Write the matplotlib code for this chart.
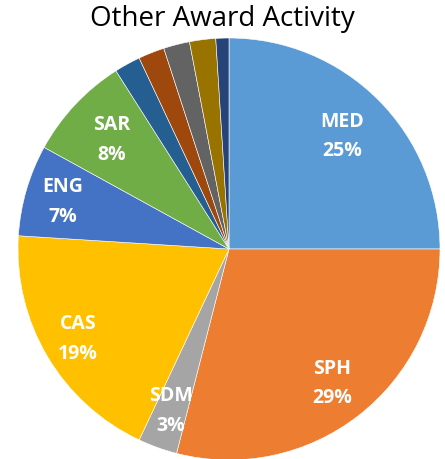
import numpy as np
import matplotlib.pyplot as plt

plt.rcParams["font.family"] = ["Open Sans", "DejaVu Sans"]

labels = ["MED", "SPH", "SDM", "CAS", "ENG", "SAR", "", "", "", "", ""]
values = [25, 29, 3, 19, 7, 8, 2, 2, 2, 2, 1]
colors = ["#5B9BD5", "#ED7D31", "#A5A5A5", "#FFC000", "#4472C4", "#70AD47",
          "#255E91", "#9E480E", "#636363", "#997300", "#264478"]

W, H = 445, 460
fig = plt.figure(figsize=(W / 100, H / 100), dpi=100)
# pie centre at (229, 250) px from top-left, radius 211 px
cx, cy, r = 229, 250, 211
ax = fig.add_axes([(cx - r) / W, (H - cy - r) / H, 2 * r / W, 2 * r / H])

wedges, _ = ax.pie(values, colors=colors, startangle=90, counterclock=False,
                   radius=1.0, center=(0, 0),
                   wedgeprops={"edgecolor": "white", "linewidth": 0.4})

# label placement (fraction of radius)
dist = [0.76, 0.80, 0.81, 0.83, 0.82, 0.76]
for i, (w, lab) in enumerate(zip(wedges, labels)):
    if not lab:
        continue
    ang = np.deg2rad((w.theta1 + w.theta2) / 2)
    x, y = dist[i] * np.cos(ang), dist[i] * np.sin(ang)
    ax.text(x, y, f"{lab}\n{values[i]}%", ha="center", va="center",
            color="white", fontsize=14, fontweight="bold", linespacing=1.65)

ax.set_xlim(-1.0, 1.0)
ax.set_ylim(-1.0, 1.0)
ax.set_aspect("equal")
ax.axis("off")
fig.text(0.5, 1 - 19 / H, "Other Award Activity", ha="center", va="center",
         fontsize=20)

fig.savefig("out.png", dpi=100)
